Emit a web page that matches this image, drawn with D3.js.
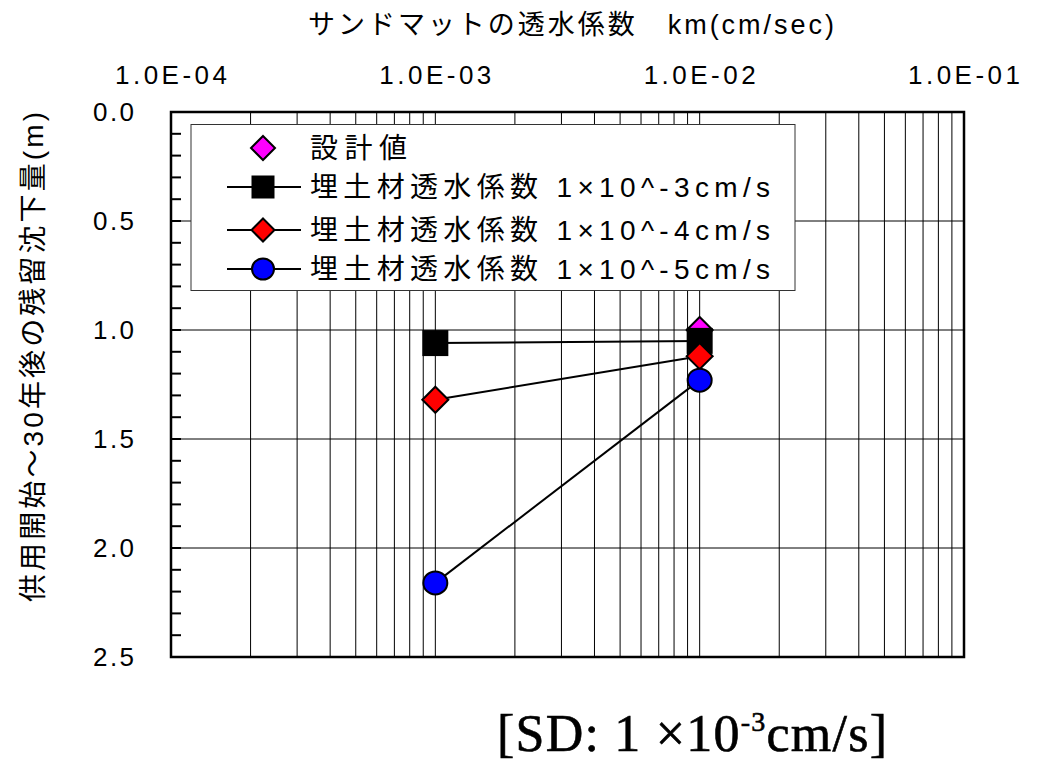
<!DOCTYPE html>
<html>
<head>
<meta charset="utf-8">
<script src="https://cdn.jsdelivr.net/npm/d3@7"></script>
<style>
  body { margin: 0; background: #fff; }
  svg text { font-family: "Liberation Sans", "Noto Sans CJK JP", sans-serif; fill: #000; }
</style>
</head>
<body>
<svg width="1040" height="762"></svg>
<script>
// data
var xTickValues = [1e-4, 1e-3, 1e-2, 1e-1];
var xTickLabels = ["1.0E-04", "1.0E-03", "1.0E-02", "1.0E-01"];
var yTickValues = [0, 0.5, 1.0, 1.5, 2.0, 2.5];
var yTickLabels = ["0.0", "0.5", "1.0", "1.5", "2.0", "2.5"];
var sdPermeability = [1e-3, 1e-2];
var designX = [1e-2];
var designY = [1.0];
var fill3 = [1.06, 1.05];
var fill4 = [1.32, 1.12];
var fill5 = [2.16, 1.23];
var legendNames = ["設計値", "埋土材透水係数 1×10^-3cm/s", "埋土材透水係数 1×10^-4cm/s", "埋土材透水係数 1×10^-5cm/s"];

var svg = d3.select("svg");
var x = d3.scaleLog().domain([1e-4, 1e-1]).range([171, 964]);
var y = d3.scaleLinear().domain([0, 2.5]).range([112, 657]);

// vertical grid: every 1..9 of each decade
var gridX = [];
[1e-4, 1e-3, 1e-2].forEach(function(d) {
    for (var k = 1; k <= 9; k++) gridX.push(d * k);
});
gridX = gridX.filter(function(v) { return v > 1e-4 * 1.01; });

var grid = svg.append("g").attr("stroke", "#000").attr("stroke-width", 1);
grid.selectAll(null).data(gridX).enter().append("line")
    .attr("x1", function(d) { return x(d); })
    .attr("x2", function(d) { return x(d); })
    .attr("y1", y(0)).attr("y2", y(2.5));
grid.selectAll(null).data([0.5, 1.0, 1.5, 2.0]).enter().append("line")
    .attr("x1", x(1e-4)).attr("x2", x(1e-1))
    .attr("y1", function(d) { return y(d); })
    .attr("y2", function(d) { return y(d); });

// legend box (covers grid)
svg.append("rect")
    .attr("x", 191).attr("y", 124.5).attr("width", 604).attr("height", 166)
    .attr("fill", "#fff").attr("stroke", "#333").attr("stroke-width", 1);

// left minor ticks, inward
var minor = d3.range(0, 26).map(function(i) { return i / 10; });
svg.append("g").selectAll(null).data(minor).enter().append("line")
    .attr("x1", x(1e-4)).attr("x2", x(1e-4) + 10)
    .attr("y1", function(d) { return y(d); })
    .attr("y2", function(d) { return y(d); })
    .attr("stroke", "#000").attr("stroke-width", 2);

// frame
svg.append("rect")
    .attr("x", x(1e-4)).attr("y", y(0))
    .attr("width", x(1e-1) - x(1e-4)).attr("height", y(2.5) - y(0))
    .attr("fill", "none").attr("stroke", "#000").attr("stroke-width", 2.5);

// tick labels
svg.append("g").selectAll(null).data(xTickValues).enter().append("text")
    .attr("x", function(d) { return x(d); })
    .attr("y", 84)
    .attr("text-anchor", "middle")
    .attr("font-size", 26)
    .attr("textLength", 112)
    .attr("lengthAdjust", "spacing")
    .text(function(d, i) { return xTickLabels[i]; });

svg.append("g").selectAll(null).data(yTickValues).enter().append("text")
    .attr("x", 134)
    .attr("y", function(d) { return y(d) + 9; })
    .attr("text-anchor", "end")
    .attr("font-size", 26)
    .attr("textLength", 41)
    .attr("lengthAdjust", "spacing")
    .text(function(d, i) { return yTickLabels[i]; });

// titles
svg.append("text")
    .attr("x", 571).attr("y", 34)
    .attr("text-anchor", "middle")
    .attr("font-size", 27)
    .attr("textLength", 526).attr("lengthAdjust", "spacing")
    .text("サンドマットの透水係数　km(cm/sec)");

svg.append("text")
    .attr("transform", "translate(43,357) rotate(-90)")
    .attr("text-anchor", "middle")
    .attr("font-size", 28)
    .attr("textLength", 490).attr("lengthAdjust", "spacing")
    .text("供用開始～30年後の残留沈下量(m)");

var note = svg.append("text")
    .attr("x", 497).attr("y", 751)
    .attr("font-size", 52)
    .attr("stroke", "#000").attr("stroke-width", 0.6)
    .attr("textLength", 390).attr("lengthAdjust", "spacing")
    .style("font-family", "'Liberation Serif', 'Noto Sans CJK JP', serif");
note.append("tspan").text("[SD: 1 ×10");
note.append("tspan").attr("font-size", 28).attr("dy", -20).text("-3");
note.append("tspan").attr("dy", 20).text("cm/s]");

// marker helpers
function diamond(g, cx, cy, r, fill) {
    g.append("path")
        .attr("d", "M" + cx + "," + (cy - r) + "L" + (cx + r) + "," + cy + "L" + cx + "," + (cy + r) + "L" + (cx - r) + "," + cy + "Z")
        .attr("fill", fill).attr("stroke", "#000").attr("stroke-width", 2);
}
function square(g, cx, cy, s) {
    g.append("rect").attr("x", cx - s / 2).attr("y", cy - s / 2)
        .attr("width", s).attr("height", s)
        .attr("fill", "#000").attr("stroke", "#000").attr("stroke-width", 2);
}
function circle(g, cx, cy, r) {
    g.append("ellipse").attr("cx", cx).attr("cy", cy).attr("rx", r).attr("ry", r - 0.5)
        .attr("fill", "#0000ff").attr("stroke", "#000").attr("stroke-width", 2);
}

var line = d3.line()
    .x(function(d) { return x(d[0]); })
    .y(function(d) { return y(d[1]); });

var plot = svg.append("g");

// design value
designX.forEach(function(v, i) { diamond(plot, x(v), y(designY[i]), 13, "#ff00ff"); });

var series = [
    { vals: fill3, kind: "square", color: "#000" },
    { vals: fill4, kind: "diamond", color: "#ff0000" },
    { vals: fill5, kind: "circle", color: "#0000ff" }
];
series.forEach(function(s) {
    var pts = sdPermeability.map(function(v, i) { return [v, s.vals[i]]; });
    plot.append("path").attr("d", line(pts))
        .attr("fill", "none").attr("stroke", "#000").attr("stroke-width", 2);
    pts.forEach(function(p) {
        if (s.kind == "square") square(plot, x(p[0]), y(p[1]), 24);
        else if (s.kind == "diamond") diamond(plot, x(p[0]), y(p[1]), 13, s.color);
        else circle(plot, x(p[0]), y(p[1]), 12);
    });
});

// legend entries
var legendY = [148, 187, 230, 269];
var lg = svg.append("g");
legendNames.forEach(function(name, i) {
    var cy = legendY[i];
    if (i > 0) {
        lg.append("line").attr("x1", 227).attr("x2", 301).attr("y1", cy).attr("y2", cy)
            .attr("stroke", "#000").attr("stroke-width", 2);
    }
    if (i == 0) diamond(lg, 263, cy, 12, "#ff00ff");
    if (i == 1) square(lg, 263, cy, 21);
    if (i == 2) diamond(lg, 263, cy, 11.5, "#ff0000");
    if (i == 3) circle(lg, 263, cy, 11);
    lg.append("text")
        .attr("x", 310).attr("y", cy + 10)
        .attr("font-size", 28)
        .attr("textLength", i == 0 ? 97 : 460)
        .attr("lengthAdjust", "spacing")
        .text(name);
});
</script>
</body>
</html>
